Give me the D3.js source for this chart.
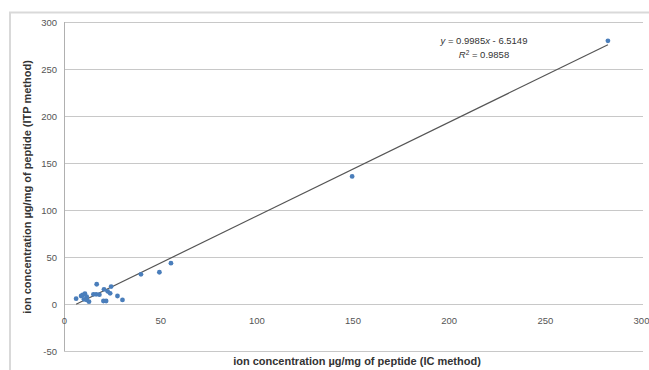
<!DOCTYPE html>
<html>
<head>
<meta charset="utf-8">
<script src="https://cdn.jsdelivr.net/npm/d3@7"></script>
<style>
  body { margin: 0; background: #fff; }
  text { font-family: "Liberation Sans", Arial, sans-serif; }
</style>
</head>
<body>
<div id="chart"></div>
<script>
// Data
var icMethod  = [6.3, 8.9, 9.7, 10.9, 11.8, 10.4, 11.8, 13, 15.3, 17, 16.7, 18.4, 20.8, 20.5, 21.9, 22.7, 24.5, 24, 27.8, 30.4, 40, 49.6, 55.6, 149.8, 282.8];
var itpMethod = [5.7, 8.5, 9.6, 11, 7.8, 5, 4.3, 2.5, 10.3, 21, 10.3, 9.9, 15.6, 3.2, 3.2, 13.5, 18.5, 11.4, 8.5, 4.3, 31.6, 33.8, 43.4, 135.7, 280];
var xTicks = [0, 50, 100, 150, 200, 250, 300];
var yTicks = [-50, 0, 50, 100, 150, 200, 250, 300];
var slope = 0.9985, intercept = -6.5149, rSquared = 0.9858;

var pts = icMethod.map(function (d, i) { return { x: d, y: itpMethod[i] }; });

var W = 649, H = 370;
var margin = { top: 22, right: 8, bottom: 19, left: 64 };

var svg = d3.select('#chart').append('svg')
    .attr('width', W)
    .attr('height', H);

// outer chart border (only top and left visible in the picture)
svg.append('path')
    .attr('d', 'M10,' + H + 'V12.5H' + W)
    .attr('fill', 'none')
    .attr('stroke', '#d9d9d9')
    .attr('stroke-width', 2);

var x = d3.scaleLinear().domain([0, 300]).range([margin.left, W - margin.right]);
var y = d3.scaleLinear().domain([-50, 300]).range([H - margin.bottom, margin.top]);

// horizontal gridlines
svg.append('g')
    .selectAll('line')
    .data(yTicks)
    .enter().append('line')
    .attr('x1', x(0))
    .attr('x2', x(300) + 2)
    .attr('y1', function (d) { return Math.round(y(d)) + 0.5; })
    .attr('y2', function (d) { return Math.round(y(d)) + 0.5; })
    .attr('stroke', '#c8c8c8')
    .attr('stroke-width', 1.2);

// y axis line
svg.append('line')
    .attr('x1', x(0) + 0.5).attr('x2', x(0) + 0.5)
    .attr('y1', y(300)).attr('y2', y(-50))
    .attr('stroke', '#b0b0b0');

// plain hyphen for negatives, like the original
var fmt = function (d) { return String(d); };

// y tick labels
var yAxis = d3.axisLeft(y).tickValues(yTicks).tickFormat(fmt).tickSize(0).tickPadding(7);
svg.append('g')
    .attr('transform', 'translate(' + x(0) + ',0)')
    .call(yAxis)
    .call(function (g) { g.select('.domain').remove(); })
    .selectAll('text')
    .attr('font-size', 9.5)
    .attr('fill', '#555');

// x tick labels sit below the zero line
var xAxis = d3.axisBottom(x).tickValues(xTicks).tickFormat(fmt).tickSize(0).tickPadding(13);
svg.append('g')
    .attr('transform', 'translate(0,' + y(0) + ')')
    .call(xAxis)
    .call(function (g) { g.select('.domain').remove(); })
    .selectAll('text')
    .attr('font-size', 9.5)
    .attr('fill', '#555');

// trendline
var xmin = d3.min(icMethod), xmax = d3.max(icMethod);
svg.append('line')
    .attr('x1', x(xmin)).attr('y1', y(slope * xmin + intercept))
    .attr('x2', x(xmax)).attr('y2', y(slope * xmax + intercept))
    .attr('stroke', '#555')
    .attr('stroke-width', 1.2);

// points
svg.selectAll('circle')
    .data(pts)
    .enter().append('circle')
    .attr('r', 2.4)
    .attr('fill', '#4a7ebb')
    .attr('cx', function (d) { return x(d.x); })
    .attr('cy', function (d) { return y(d.y); });

// equation
var eq = svg.append('text')
    .attr('x', 484).attr('y', 44)
    .attr('text-anchor', 'middle')
    .attr('font-size', 9.5)
    .attr('fill', '#333');
eq.append('tspan').attr('font-style', 'italic').text('y');
eq.append('tspan').text(' = ' + slope);
eq.append('tspan').attr('font-style', 'italic').text('x');
eq.append('tspan').text(' - ' + Math.abs(intercept));

var r2 = svg.append('text')
    .attr('x', 484).attr('y', 58)
    .attr('text-anchor', 'middle')
    .attr('font-size', 9.5)
    .attr('fill', '#333');
r2.append('tspan').attr('font-style', 'italic').text('R');
r2.append('tspan').attr('font-size', 6.5).attr('dy', -3.5).text('2');
r2.append('tspan').attr('dy', 3.5).text(' = ' + rSquared);

// axis titles
svg.append('text')
    .attr('x', 357).attr('y', 365)
    .attr('text-anchor', 'middle')
    .attr('font-size', 11)
    .attr('font-weight', 'bold')
    .attr('fill', '#333')
    .text('ion concentration µg/mg of peptide (IC method)');

svg.append('text')
    .attr('transform', 'translate(31,187) rotate(-90)')
    .attr('text-anchor', 'middle')
    .attr('font-size', 11)
    .attr('font-weight', 'bold')
    .attr('fill', '#333')
    .text('ion concentration µg/mg of peptide (ITP method)');
</script>
</body>
</html>
